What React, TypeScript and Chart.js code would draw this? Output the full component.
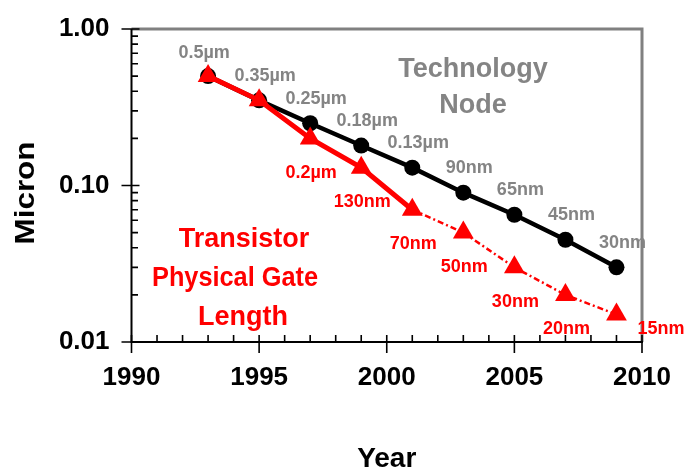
import React, { useEffect, useRef } from 'react';
import { Chart, registerables } from 'chart.js';

Chart.register(...registerables);

// ---- data ----
const years = [1993, 1995, 1997, 1999, 2001, 2003, 2005, 2007, 2009];
const techNode = [0.5, 0.35, 0.25, 0.18, 0.13, 0.09, 0.065, 0.045, 0.03];
const gateLength = [0.5, 0.35, 0.2, 0.13, 0.07, 0.05, 0.03, 0.02, 0.015];
const techNodeLabels = ['0.5µm', '0.35µm', '0.25µm', '0.18µm', '0.13µm', '90nm', '65nm', '45nm', '30nm'];
const gateLengthLabels = ['', '', '0.2µm', '130nm', '70nm', '50nm', '30nm', '20nm', '15nm'];
const xTicks = [1990, 1995, 2000, 2005, 2010];
const yTicks = [0.01, 0.1, 1];
const yTickLabels = ['0.01', '0.10', '1.00'];
const dashedFromYear = 2001;
const xMin = 1990;
const xMax = 2010;

const FONT = '"Liberation Sans", Arial, sans-serif';
const GRAY = '#848484';
const RED = '#ff0000';

const overlayPlugin = {
  id: 'overlay',
  afterDraw(chart: any) {
    const { ctx, chartArea } = chart;
    const xs = chart.scales.x;
    const ys = chart.scales.y;
    const { left, right, top, bottom } = chartArea;
    ctx.save();

    // gray frame (top & right)
    ctx.strokeStyle = '#808080';
    ctx.lineWidth = 3;
    ctx.beginPath();
    ctx.moveTo(left, top);
    ctx.lineTo(right, top);
    ctx.lineTo(right, bottom);
    ctx.stroke();

    // black axes
    ctx.strokeStyle = '#000';
    ctx.lineWidth = 2;
    ctx.beginPath();
    ctx.moveTo(left, top);
    ctx.lineTo(left, bottom);
    ctx.lineTo(right + 1, bottom);
    ctx.stroke();

    // y ticks
    ctx.lineWidth = 1.6;
    ctx.beginPath();
    for (let d = 0; d < yTicks.length - 1; d++) {
      for (let k = 2; k <= 9; k++) {
        const py = ys.getPixelForValue(yTicks[d] * k);
        ctx.moveTo(left, py);
        ctx.lineTo(left + 6.5, py);
      }
    }
    ys.ticks.forEach((t: any) => {
      const py = ys.getPixelForValue(t.value);
      ctx.moveTo(left - 10, py);
      ctx.lineTo(left + 8, py);
    });
    // x ticks
    for (let yr = xMin; yr <= xMax; yr++) {
      const px = xs.getPixelForValue(yr);
      ctx.moveTo(px, bottom);
      ctx.lineTo(px, bottom - 7);
    }
    xs.ticks.forEach((t: any) => {
      const px = xs.getPixelForValue(t.value);
      ctx.moveTo(px, bottom - 7);
      ctx.lineTo(px, bottom + 11);
    });
    ctx.stroke();

    // point labels
    const redMeta = chart.getDatasetMeta(0);
    const blackMeta = chart.getDatasetMeta(1);
    ctx.font = `bold 18px ${FONT}`;
    ctx.textBaseline = 'alphabetic';
    ctx.fillStyle = GRAY;
    ctx.textAlign = 'center';
    blackMeta.data.forEach((pt: any, i: number) => {
      const dx = i === 0 ? -4 : 6;
      const dy = i === 0 ? -18 : -19.5;
      ctx.fillText(techNodeLabels[i], pt.x + dx, pt.y + dy);
    });
    ctx.fillStyle = RED;
    redMeta.data.forEach((pt: any, i: number) => {
      const txt = gateLengthLabels[i];
      if (!txt) return;
      if (i === redMeta.data.length - 1) {
        ctx.textAlign = 'left';
        ctx.fillText(txt, pt.x + 21, pt.y + 20);
      } else {
        ctx.textAlign = 'center';
        ctx.fillText(txt, pt.x + 1, pt.y + 39.5);
      }
    });

    // series annotations
    ctx.textAlign = 'center';
    ctx.font = `bold 27px ${FONT}`;
    ctx.fillStyle = GRAY;
    ctx.fillText('Technology', 473, 77);
    ctx.fillText('Node', 473, 113);
    ctx.fillStyle = RED;
    ctx.fillText('Transistor', 244, 247);
    ctx.fillText('Physical Gate', 235, 286, 166);
    ctx.fillText('Length', 243, 325);

    // axis titles
    ctx.fillStyle = '#000';
    ctx.font = `bold 28px ${FONT}`;
    ctx.fillText('Year', (left + right) / 2, 467);
    ctx.translate(34, 193);
    ctx.rotate(-Math.PI / 2);
    ctx.scale(1.12, 1);
    ctx.fillText('Micron', 0, 0);

    ctx.restore();
  },
};

function zeroPadding(s: any) {
  s.paddingTop = 0;
  s.paddingBottom = 0;
  s.paddingLeft = 0;
  s.paddingRight = 0;
}

export default function App() {
  const canvasRef = useRef<HTMLCanvasElement | null>(null);

  useEffect(() => {
    document.body.style.margin = '0';
    const canvas = canvasRef.current;
    if (!canvas) return;
    const chart = new Chart(canvas, {
      type: 'line',
      data: {
        datasets: [
          {
            label: 'Transistor Physical Gate Length',
            data: years.map((x, i) => ({ x, y: gateLength[i] })),
            borderColor: RED,
            backgroundColor: RED,
            borderWidth: 5,
            pointStyle: 'triangle',
            pointRadius: 12,
            pointBorderWidth: 0,
            pointBackgroundColor: RED,
            tension: 0,
            segment: {
              borderDash: (c: any) => (c.p0.parsed.x >= dashedFromYear ? [6, 3, 2, 3] : []),
              borderWidth: (c: any) => (c.p0.parsed.x >= dashedFromYear ? 2.5 : 5),
            },
          } as any,
          {
            label: 'Technology Node',
            data: years.map((x, i) => ({ x, y: techNode[i] })),
            borderColor: '#000',
            backgroundColor: '#000',
            borderWidth: 4.5,
            pointStyle: 'circle',
            pointRadius: 8,
            pointBorderWidth: 0,
            pointBackgroundColor: '#000',
            tension: 0,
          },
        ],
      },
      options: {
        responsive: false,
        animation: false,
        events: [],
        layout: { padding: { top: 29, right: 45, left: 0, bottom: 0 } },
        plugins: {
          legend: { display: false },
          tooltip: { enabled: false },
        },
        scales: {
          x: {
            type: 'linear',
            min: xMin,
            max: xMax,
            afterFit: (s: any) => {
              s.height = 128;
              zeroPadding(s);
            },
            afterBuildTicks: (s: any) => {
              s.ticks = xTicks.map((v) => ({ value: v }));
            },
            grid: { display: false, drawTicks: false },
            border: { display: false },
            ticks: {
              autoSkip: false,
              maxRotation: 0,
              padding: 20,
              color: '#000',
              font: { family: FONT, size: 26, weight: 'bold' },
              callback: (v: any) => String(v),
            },
          },
          y: {
            type: 'logarithmic',
            min: 0.01,
            max: 1,
            afterFit: (s: any) => {
              s.width = 131.5;
              zeroPadding(s);
            },
            afterBuildTicks: (s: any) => {
              s.ticks = yTicks.map((v) => ({ value: v, major: true }));
            },
            grid: { display: false, drawTicks: false },
            border: { display: false },
            ticks: {
              autoSkip: false,
              padding: 22,
              color: '#000',
              font: { family: FONT, size: 26, weight: 'bold' },
              callback: (v: any) => {
                const i = yTicks.findIndex((t) => Math.abs(t - Number(v)) < 1e-9);
                return i >= 0 ? yTickLabels[i] : '';
              },
            },
          },
        },
      },
      plugins: [overlayPlugin],
    } as any);
    return () => chart.destroy();
  }, []);

  return (
    <div style={{ position: 'absolute', left: 0, top: 0, width: 687, height: 470, background: '#fff' }}>
      <canvas ref={canvasRef} width={687} height={470} style={{ display: 'block' }} />
    </div>
  );
}
